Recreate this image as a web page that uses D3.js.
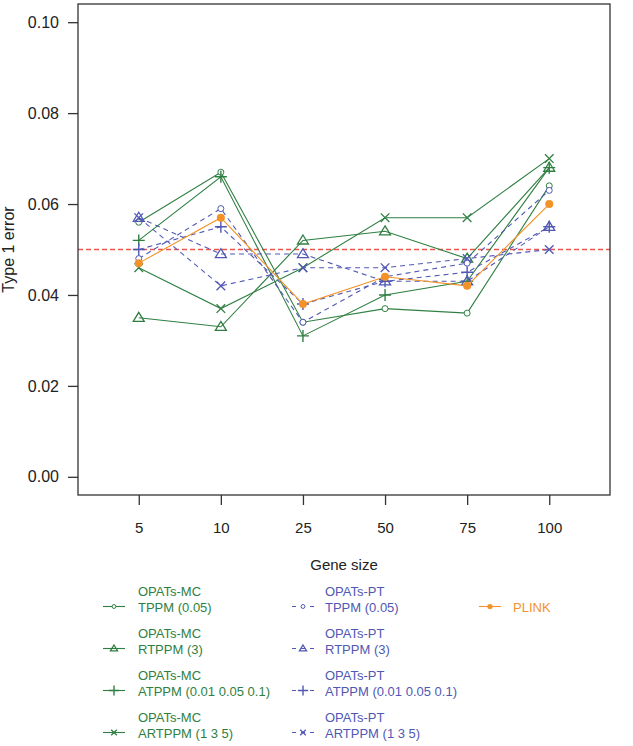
<!DOCTYPE html>
<html>
<head>
<meta charset="utf-8">
<script src="https://cdn.jsdelivr.net/npm/d3@7"></script>
<style>
  body { margin: 0; background: #fff; }
  svg { font-family: "Liberation Sans", Arial, sans-serif; }
</style>
</head>
<body>
<svg width="633" height="746"></svg>
<script>
// gene sizes on the x axis
var geneSizes = ["5", "10", "25", "50", "75", "100"];
var yTicks = [0, 0.02, 0.04, 0.06, 0.08, 0.10];
var alpha = 0.05;

// type 1 error per gene size
var mcTPPM = [0.056, 0.067, 0.034, 0.037, 0.036, 0.064];
var mcRTPPM = [0.035, 0.033, 0.052, 0.054, 0.048, 0.068];
var mcATPPM = [0.052, 0.066, 0.031, 0.040, 0.043, 0.068];
var mcARTPPM = [0.046, 0.037, 0.046, 0.057, 0.057, 0.070];
var ptTPPM = [0.048, 0.059, 0.034, 0.044, 0.047, 0.063];
var ptRTPPM = [0.057, 0.049, 0.049, 0.043, 0.043, 0.055];
var ptATPPM = [0.050, 0.055, 0.038, 0.043, 0.045, 0.055];
var ptARTPPM = [0.057, 0.042, 0.046, 0.046, 0.048, 0.050];
var plink = [0.047, 0.057, 0.038, 0.044, 0.042, 0.060];

var green = "#2f7f42", blue = "#5058b4", orange = "#f39229";

var series = [
  { group: "OPATs-MC", name: "TPPM (0.05)", values: mcTPPM, color: green, dash: null, pch: "circle" },
  { group: "OPATs-MC", name: "RTPPM (3)", values: mcRTPPM, color: green, dash: null, pch: "triangle" },
  { group: "OPATs-MC", name: "ATPPM (0.01 0.05 0.1)", values: mcATPPM, color: green, dash: null, pch: "plus" },
  { group: "OPATs-MC", name: "ARTPPM (1 3 5)", values: mcARTPPM, color: green, dash: null, pch: "cross" },
  { group: "OPATs-PT", name: "TPPM (0.05)", values: ptTPPM, color: blue, dash: "5,4", pch: "circle" },
  { group: "OPATs-PT", name: "RTPPM (3)", values: ptRTPPM, color: blue, dash: "5,4", pch: "triangle" },
  { group: "OPATs-PT", name: "ATPPM (0.01 0.05 0.1)", values: ptATPPM, color: blue, dash: "5,4", pch: "plus" },
  { group: "OPATs-PT", name: "ARTPPM (1 3 5)", values: ptARTPPM, color: blue, dash: "5,4", pch: "cross" },
  { group: "", name: "PLINK", values: plink, color: orange, dash: null, pch: "dot" }
];

var svg = d3.select("svg");
var plotLeft = 78, plotRight = 610, plotTop = 4, plotBottom = 495;

var xScale = d3.scaleLinear().domain([0.26, 6.74]).range([plotLeft, plotRight]);
var yScale = d3.scaleLinear().domain([-0.004, 0.104]).range([plotBottom, plotTop]);

// alpha reference line
var alphaY = Math.round(yScale(alpha)) + 0.5;
svg.append("path")
  .attr("d", "M" + plotLeft + "," + alphaY + "H" + plotRight)
  .style("stroke", "rgb(236, 84, 76)")
  .style("stroke-dasharray", "5,3")
  .style("stroke-width", "1.3px")
  .style("fill", "none");

function drawMark(g, pch, color, s) {
  if (pch == "circle") {
    g.append("circle").attr("r", 3 * s).attr("fill", "#fff").attr("stroke", color);
  } else if (pch == "triangle") {
    var h = 9 * s, w = 5.5 * s;
    g.append("path").attr("d", "M0," + (-h * 0.6) + "L" + w + "," + (h * 0.4) + "L" + (-w) + "," + (h * 0.4) + "Z")
      .attr("fill", "none").attr("stroke", color).attr("stroke-width", 1.3);
  } else if (pch == "plus") {
    var a = 6 * s;
    g.append("path").attr("d", "M" + (-a) + ",0H" + a + "M0," + (-a) + "V" + a)
      .attr("stroke", color).attr("stroke-width", 1.4);
  } else if (pch == "cross") {
    var b = 4.3 * s;
    g.append("path").attr("d", "M" + (-b) + "," + (-b) + "L" + b + "," + b + "M" + (-b) + "," + b + "L" + b + "," + (-b))
      .attr("stroke", color).attr("stroke-width", 1.3);
  } else {
    g.append("circle").attr("r", 4 * s).attr("fill", color);
  }
}

var line = d3.line()
  .x(function(d, i) { return xScale(i + 1); })
  .y(function(d) { return yScale(d); });

series.forEach(function(s) {
  var g = svg.append("g");
  g.append("path")
    .attr("d", line(s.values))
    .attr("fill", "none")
    .attr("stroke", s.color)
    .attr("stroke-width", 1.1)
    .attr("stroke-dasharray", s.dash);
  s.values.forEach(function(v, i) {
    var m = g.append("g").attr("transform", "translate(" + xScale(i + 1) + "," + yScale(v) + ")");
    drawMark(m, s.pch, s.color, 1);
  });
});

// box
svg.append("rect")
  .attr("x", plotLeft).attr("y", plotTop)
  .attr("width", plotRight - plotLeft).attr("height", plotBottom - plotTop)
  .attr("fill", "none").attr("stroke", "#333").attr("stroke-width", 1.3);

var xAxis = svg.append("g")
  .attr("transform", "translate(0," + plotBottom + ")")
  .call(d3.axisBottom(xScale).tickValues([1, 2, 3, 4, 5, 6])
    .tickFormat(function(d) { return geneSizes[d - 1]; })
    .tickSize(10).tickPadding(17));

var yAxis = svg.append("g")
  .attr("transform", "translate(" + plotLeft + ",0)")
  .call(d3.axisLeft(yScale).tickValues(yTicks).tickFormat(d3.format(".2f"))
    .tickSize(10).tickPadding(9));

[xAxis, yAxis].forEach(function(ax) {
  ax.select(".domain").remove();
  ax.selectAll("line").attr("stroke", "#333").attr("stroke-width", 1.3);
  ax.selectAll("text").attr("fill", "#222").style("font-size", "15px")
    .style("font-family", "'Liberation Sans', Arial, sans-serif");
});
yAxis.selectAll("text").style("font-size", "16px");

svg.append("text")
  .attr("x", (plotLeft + plotRight) / 2).attr("y", 570)
  .attr("text-anchor", "middle").attr("fill", "#222").style("font-size", "15px")
  .text("Gene size");

svg.append("text")
  .attr("transform", "translate(14," + (plotTop + plotBottom) / 2 + ") rotate(-90)")
  .attr("text-anchor", "middle").attr("fill", "#222").style("font-size", "16px")
  .text("Type 1 error");

// legend
var legendCols = [
  { lx: 103, tx: 138 },
  { lx: 292, tx: 325 },
  { lx: 479, tx: 513 }
];
series.forEach(function(s, i) {
  var col = legendCols[Math.floor(i / 4)];
  var row = i % 4;
  var y0 = 595.5 + row * 42;
  var lg = svg.append("g");
  var symY = y0 + 11;
  lg.append("line")
    .attr("x1", col.lx).attr("x2", col.lx + 22)
    .attr("y1", symY).attr("y2", symY)
    .attr("stroke", s.color).attr("stroke-width", 1.1)
    .attr("stroke-dasharray", s.dash ? "4,5" : null);
  var m = lg.append("g").attr("transform", "translate(" + (col.lx + 11) + "," + symY + ")");
  drawMark(m, s.pch, s.color, s.pch == "plus" ? 0.85 : 0.65);
  if (s.group) {
    lg.append("text").attr("x", col.tx).attr("y", y0)
      .attr("fill", s.color).style("font-size", "13px").text(s.group);
    lg.append("text").attr("x", col.tx).attr("y", y0 + 16)
      .attr("fill", s.color).style("font-size", "13px").text(s.name);
  } else {
    lg.append("text").attr("x", col.tx).attr("y", y0 + 16)
      .attr("fill", s.color).style("font-size", "13px").text(s.name);
  }
});
</script>
</body>
</html>
